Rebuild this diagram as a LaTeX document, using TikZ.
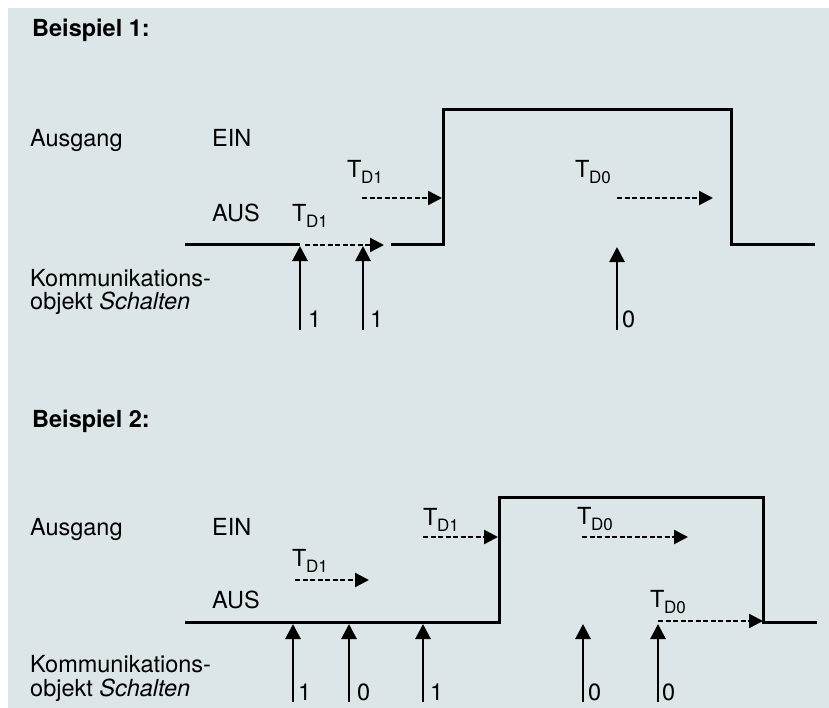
\documentclass[tikz,border=0pt]{standalone}
\usepackage{fontspec}
\setmainfont{TeX Gyre Heros}
\usetikzlibrary{arrows.meta}
\definecolor{bgcol}{RGB}{220,230,232}
\newcommand{\Tsub}[1]{T\kern-0.5bp\raisebox{-6bp}{\fontsize{17bp}{17bp}\selectfont D#1}}
\tikzset{
  lbl/.style={anchor=base west, inner sep=0pt, font=\fontsize{23.5bp}{27bp}\selectfont},
  ttl/.style={anchor=base west, inner sep=0pt, font=\fontsize{23.5bp}{27bp}\selectfont\bfseries},
  signal/.style={line width=3bp, line join=miter},
  trig/.style={line width=2.8bp, -{Triangle[length=15bp,width=15bp]}},
  delay/.style={line width=2.4bp, dash pattern=on 5bp off 2.5bp, -{Triangle[length=14bp,width=14bp]}}
}
\begin{document}
\begin{tikzpicture}[x=1bp,y=-1bp]
\useasboundingbox (0,0) rectangle (829,708);
\fill[bgcol] (8,8) rectangle (829,708);

% ---------------- Beispiel 1 ----------------
\node[ttl] (b1) at (32,37) {Beispiel 1:};
\node[lbl] (aus1lbl) at (30,147) {Ausgang};
\node[lbl] (ein1) at (212,147) {EIN};
\node[lbl] (aus1) at (212,221) {AUS};
\node[lbl] (k1a) at (30,286) {Kommunikations-};
\node[lbl] (k1b) at (30,309) {objekt \textit{Schalten}};

\coordinate (s1a) at (185,244);
\coordinate (s1b) at (300,244);
\coordinate (s1c) at (391,244);
\coordinate (s1d) at (443,244);
\coordinate (s1e) at (443,110);
\coordinate (s1f) at (731,110);
\coordinate (s1g) at (731,244);
\coordinate (s1h) at (815,244);
\draw[signal] (s1a) -- (s1b);
\draw[signal] (s1c) -- (s1d) -- (s1e) -- (s1f) -- (s1g) -- (s1h);

\node[lbl] (t1a) at (292,221) {\Tsub{1}};
\node[lbl] (t1b) at (347,177) {\Tsub{1}};
\node[lbl] (t1c) at (575,177) {\Tsub{0}};
\coordinate (d1as) at (305,245); \coordinate (d1ae) at (384,245);
\coordinate (d1bs) at (362,198); \coordinate (d1be) at (442,198);
\coordinate (d1cs) at (617,198); \coordinate (d1ce) at (713,198);
\draw[delay] (d1as) -- (d1ae);
\draw[delay] (d1bs) -- (d1be);
\draw[delay] (d1cs) -- (d1ce);

\coordinate (u1as) at (300,330); \coordinate (u1ae) at (300,246);
\coordinate (u1bs) at (363,330); \coordinate (u1be) at (363,246);
\coordinate (u1cs) at (617,330); \coordinate (u1ce) at (617,247);
\draw[trig] (u1as) -- (u1ae);
\draw[trig] (u1bs) -- (u1be);
\draw[trig] (u1cs) -- (u1ce);
\node[lbl] (v1a) at (308,327) {1};
\node[lbl] (v1b) at (370,327) {1};
\node[lbl] (v1c) at (622,327) {0};

% ---------------- Beispiel 2 ----------------
\node[ttl] (b2) at (32,427) {Beispiel 2:};
\node[lbl] (aus2lbl) at (30,535) {Ausgang};
\node[lbl] (ein2) at (212,535) {EIN};
\node[lbl] (aus2) at (212,608) {AUS};
\node[lbl] (k2a) at (30,672) {Kommunikations-};
\node[lbl] (k2b) at (30,696) {objekt \textit{Schalten}};

\coordinate (s2a) at (185,622);
\coordinate (s2b) at (499,622);
\coordinate (s2c) at (499,497);
\coordinate (s2d) at (763,497);
\coordinate (s2e) at (763,622);
\coordinate (s2f) at (817,622);
\draw[signal] (s2a) -- (s2b) -- (s2c) -- (s2d) -- (s2e) -- (s2f);

\node[lbl] (t2a) at (292,566) {\Tsub{1}};
\node[lbl] (t2b) at (423,525) {\Tsub{1}};
\node[lbl] (t2c) at (577,524) {\Tsub{0}};
\node[lbl] (t2d) at (650,607) {\Tsub{0}};
\coordinate (d2as) at (295,580); \coordinate (d2ae) at (369,580);
\coordinate (d2bs) at (423,537); \coordinate (d2be) at (498,537);
\coordinate (d2cs) at (582,537); \coordinate (d2ce) at (688,537);
\coordinate (d2ds) at (658,621); \coordinate (d2de) at (763,621);
\draw[delay] (d2as) -- (d2ae);
\draw[delay] (d2bs) -- (d2be);
\draw[delay] (d2cs) -- (d2ce);
\draw[delay] (d2ds) -- (d2de);

\coordinate (u2as) at (293,702); \coordinate (u2ae) at (293,624);
\coordinate (u2bs) at (349,702); \coordinate (u2be) at (349,624);
\coordinate (u2cs) at (423,702); \coordinate (u2ce) at (423,624);
\coordinate (u2ds) at (583,702); \coordinate (u2de) at (583,624);
\coordinate (u2es) at (658,702); \coordinate (u2ee) at (658,624);
\draw[trig] (u2as) -- (u2ae);
\draw[trig] (u2bs) -- (u2be);
\draw[trig] (u2cs) -- (u2ce);
\draw[trig] (u2ds) -- (u2de);
\draw[trig] (u2es) -- (u2ee);
\node[lbl] (v2a) at (298,700) {1};
\node[lbl] (v2b) at (357,700) {0};
\node[lbl] (v2c) at (430,700) {1};
\node[lbl] (v2d) at (588,700) {0};
\node[lbl] (v2e) at (662,700) {0};
\end{tikzpicture}
\end{document}
